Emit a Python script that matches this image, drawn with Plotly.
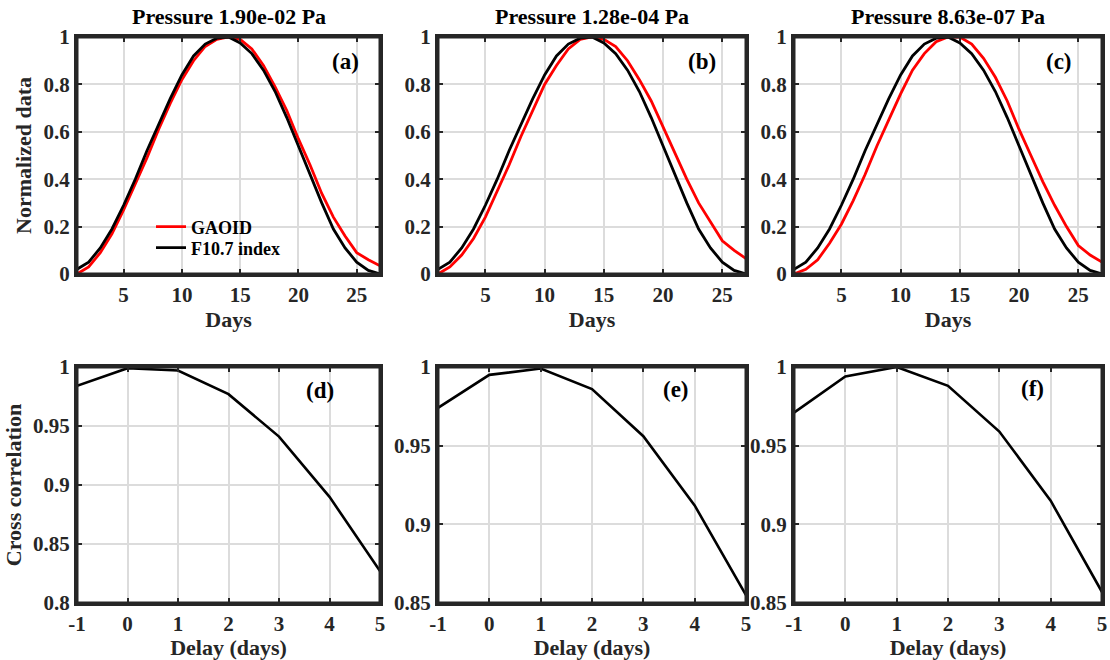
import plotly.graph_objects as go
from plotly.subplots import make_subplots

days = list(range(1, 28))
f107 = [0.02, 0.05, 0.11, 0.19, 0.29, 0.40, 0.52, 0.63, 0.74, 0.84, 0.92, 0.97, 0.995, 1.0,
        0.975, 0.93, 0.86, 0.77, 0.66, 0.54, 0.42, 0.30, 0.19, 0.11, 0.05, 0.015, 0.0]
gaoid_a = [0.0, 0.03, 0.09, 0.17, 0.27, 0.38, 0.49, 0.61, 0.72, 0.82, 0.90, 0.96, 0.99, 1.0,
           0.99, 0.95, 0.88, 0.79, 0.69, 0.57, 0.46, 0.34, 0.24, 0.16, 0.09, 0.06, 0.035]
gaoid_b = [0.0, 0.03, 0.08, 0.15, 0.24, 0.35, 0.46, 0.58, 0.69, 0.80, 0.88, 0.95, 0.99, 1.0,
           0.99, 0.96, 0.90, 0.82, 0.73, 0.62, 0.51, 0.40, 0.30, 0.22, 0.14, 0.10, 0.065]
gaoid_c = [0.0, 0.02, 0.06, 0.13, 0.21, 0.31, 0.42, 0.54, 0.65, 0.76, 0.86, 0.93, 0.98, 1.0,
           1.0, 0.97, 0.91, 0.83, 0.73, 0.61, 0.50, 0.39, 0.29, 0.20, 0.12, 0.08, 0.05]

delay = [-1, 0, 1, 2, 3, 4, 5]
xcorr_d = [0.984, 0.999, 0.997, 0.977, 0.941, 0.890, 0.827]
xcorr_e = [0.974, 0.995, 0.999, 0.986, 0.956, 0.912, 0.855]
xcorr_f = [0.971, 0.994, 1.000, 0.988, 0.959, 0.915, 0.857]

titles = ["Pressure 1.90e-02 Pa", "Pressure 1.28e-04 Pa", "Pressure 8.63e-07 Pa"]
labels_top = ["(a)", "(b)", "(c)"]
labels_bot = ["(d)", "(e)", "(f)"]
top_xticks = [5, 10, 15, 20, 25]
top_yticks = [0, 0.2, 0.4, 0.6, 0.8, 1]

FONT = "Liberation Serif"
RED = "#FF0000"
BLACK = "#000000"
AXC = "#262626"
GRID = "#dcdcdc"
TXT = "#262626"

fig = make_subplots(rows=2, cols=3)

gaoids = [gaoid_a, gaoid_b, gaoid_c]
xcorrs = [xcorr_d, xcorr_e, xcorr_f]
for i in range(3):
    fig.add_trace(go.Scatter(x=days, y=gaoids[i], mode="lines", name="<b>GAOID</b>",
                             line=dict(color=RED, width=2.8), showlegend=(i == 0),
                             legend="legend"),
                  row=1, col=i + 1)
    fig.add_trace(go.Scatter(x=days, y=f107, mode="lines", name="<b>F10.7 index</b>",
                             line=dict(color=BLACK, width=2.8), showlegend=(i == 0),
                             legend="legend2"),
                  row=1, col=i + 1)
    fig.add_trace(go.Scatter(x=delay, y=xcorrs[i], mode="lines", showlegend=False,
                             line=dict(color=BLACK, width=2.6)),
                  row=2, col=i + 1)

W, H = 1110, 660
xdoms = [(77, 380), (438, 746), (794, 1102)]
ytop = (37, 274)
ybot = (367, 603)


def xd(a, b):
    return [a / W, b / W]


def yd(t, b):
    return [1 - b / H, 1 - t / H]


def bold(v):
    return "<b>%s</b>" % v


axis_common = dict(showline=True, linecolor=AXC, linewidth=3, mirror="ticks",
                   ticks="inside", ticklen=5, tickwidth=2, tickcolor=AXC,
                   showgrid=True, gridcolor=GRID, gridwidth=2, zeroline=False,
                   automargin=False, layer="above traces",
                   tickfont=dict(family=FONT, size=21, color=TXT))
title_font = dict(family=FONT, size=22, color=TXT)

for i in range(3):
    fig.update_xaxes(row=1, col=i + 1, domain=xd(*xdoms[i]), range=[1, 27],
                     tickvals=top_xticks, ticktext=[bold(v) for v in top_xticks],
                     title=dict(text=bold("Days"), font=title_font, standoff=2),
                     **axis_common)
    fig.update_yaxes(row=1, col=i + 1, domain=yd(*ytop), range=[0, 1],
                     tickvals=top_yticks, ticktext=[bold(("%g" % v)) for v in top_yticks],
                     **axis_common)
    fig.update_xaxes(row=2, col=i + 1, domain=xd(*xdoms[i]), range=[-1, 5],
                     tickvals=delay, ticktext=[bold("%d" % v) for v in delay],
                     title=dict(text=bold("Delay (days)"), font=title_font, standoff=2),
                     **axis_common)
    if i == 0:
        yv = [0.8, 0.85, 0.9, 0.95, 1.0]
        yr = [0.8, 1.0]
    else:
        yv = [0.85, 0.9, 0.95, 1.0]
        yr = [0.85, 1.0]
    fig.update_yaxes(row=2, col=i + 1, domain=yd(*ybot), range=yr,
                     tickvals=yv, ticktext=[bold("%g" % v) for v in yv], **axis_common)

fig.update_yaxes(row=1, col=1, title=dict(text=bold("Normalized data"), font=title_font, standoff=6))
fig.update_yaxes(row=2, col=1, title=dict(text=bold("Cross correlation"), font=title_font, standoff=6))

# explicit frame around every axes box (paper coordinates)
shapes = []
for r, (yt, yb) in enumerate([ytop, ybot]):
    for (xl, xr) in xdoms:
        shapes.append(dict(type="rect", xref="paper", yref="paper",
                           x0=xl / W, x1=xr / W, y0=1 - yb / H, y1=1 - yt / H,
                           line=dict(color=AXC, width=3), fillcolor="rgba(0,0,0,0)",
                           layer="above"))

top_lab_x = [24.0, 23.3, 23.4]
bot_lab_x = [3.81, 3.64, 3.64]
bot_lab_y = [0.9805, 0.9854, 0.9866]
annotations = []
for i in range(3):
    cx = (xdoms[i][0] + xdoms[i][1]) / 2 / W
    annotations.append(dict(text=bold(titles[i]), x=cx, y=1 - 16 / H,
                            xref="paper", yref="paper", showarrow=False,
                            xanchor="center", yanchor="middle",
                            font=dict(family=FONT, size=22, color="#000000")))
    xn = "x" if i == 0 else "x%d" % (i + 1)
    yn = "y" if i == 0 else "y%d" % (i + 1)
    annotations.append(dict(text=bold(labels_top[i]), x=top_lab_x[i], y=0.895,
                            xref=xn, yref=yn, showarrow=False,
                            font=dict(family=FONT, size=23, color="#000000")))
    annotations.append(dict(text=bold(labels_bot[i]), x=bot_lab_x[i], y=bot_lab_y[i],
                            xref="x%d" % (i + 4), yref="y%d" % (i + 4), showarrow=False,
                            font=dict(family=FONT, size=23, color="#000000")))

leg_common = dict(xanchor="left", yanchor="middle", bgcolor="rgba(0,0,0,0)", borderwidth=0,
                  font=dict(family=FONT, size=18, color="#000000"), itemwidth=30)
fig.update_layout(
    width=W, height=H,
    margin=dict(l=0, r=0, t=0, b=0, autoexpand=False),
    paper_bgcolor="white", plot_bgcolor="white",
    annotations=annotations,
    shapes=shapes,
    legend=dict(x=151 / W, y=1 - 227 / H, **leg_common),
    legend2=dict(x=151 / W, y=1 - 248 / H, **leg_common),
)

fig.write_html("out.html")
